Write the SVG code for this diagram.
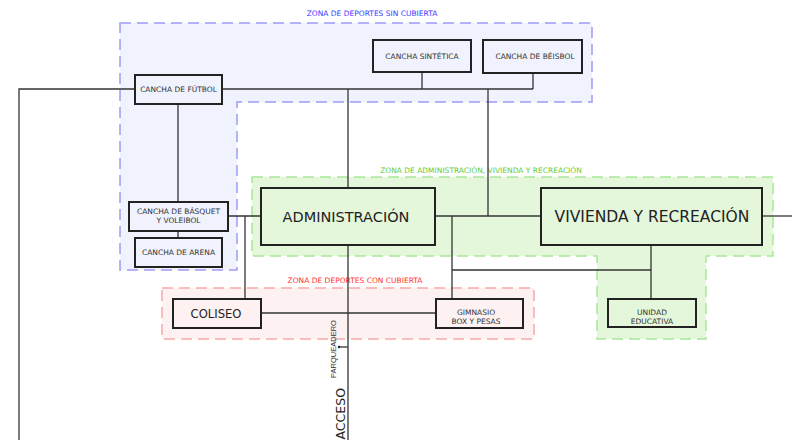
<svg xmlns="http://www.w3.org/2000/svg" width="792" height="440" viewBox="0 0 792 440">
<style>
.zone{stroke-width:1.5;stroke-dasharray:11 6}
.zb{fill:#f0f2fd;stroke:#9c9cf5}
.zg{fill:#e4f7da;stroke:#a9e89b}
.zr{fill:#fdf1f1;stroke:#f7aaaa}
.zl{font-family:"DejaVu Sans",Verdana,sans-serif;font-size:7.5px;text-anchor:middle}
.box{stroke:#222;stroke-width:2}
.t{font-family:"DejaVu Sans",Verdana,sans-serif;font-size:7.5px;fill:#333;text-anchor:middle}
.big{font-family:"DejaVu Sans",Verdana,sans-serif;fill:#222;text-anchor:middle}
.c{fill:none;stroke:#333;stroke-width:1.3}
</style>
<rect width="792" height="440" fill="#ffffff"/>
<g id="zones">
<polygon class="zone zb" points="120,23 592,23 592,102 237,102 237,270 120,270"/>
<polygon class="zone zg" points="252,177 773,177 773,256 706,256 706,339 597,339 597,256 252,256"/>
<rect class="zone zr" x="162" y="288" width="372" height="51"/>
<text class="zl" x="372" y="16" fill="#3b3bff">ZONA DE DEPORTES SIN CUBIERTA</text>
<text class="zl" x="481" y="173" fill="#66cc33">ZONA DE ADMINISTRACIÓN, VIVIENDA Y RECREACIÓN</text>
<text class="zl" x="355" y="283" fill="#ff3333">ZONA DE DEPORTES CON CUBIERTA</text>
</g>
<g id="connectors">
<polyline class="c" points="135,89 19,89 19,440"/>
<line class="c" x1="222" y1="89" x2="533" y2="89"/>
<line class="c" x1="422" y1="72" x2="422" y2="89"/>
<line class="c" x1="533" y1="73" x2="533" y2="89"/>
<line class="c" x1="348" y1="89" x2="348" y2="188"/>
<line class="c" x1="488" y1="89" x2="488" y2="216"/>
<line class="c" x1="178" y1="104" x2="178" y2="202"/>
<line class="c" x1="178" y1="231" x2="178" y2="238"/>
<line class="c" x1="228" y1="216" x2="261" y2="216"/>
<line class="c" x1="245" y1="216" x2="245" y2="299"/>
<line class="c" x1="435" y1="216" x2="541" y2="216"/>
<line class="c" x1="762" y1="216" x2="792" y2="216"/>
<line class="c" x1="452" y1="216" x2="452" y2="299"/>
<line class="c" x1="452" y1="270" x2="651" y2="270"/>
<line class="c" x1="651" y1="245" x2="651" y2="299"/>
<line class="c" x1="261" y1="313" x2="436" y2="313"/>
<line class="c" x1="348" y1="245" x2="348" y2="440"/>
<line class="c" x1="339" y1="347" x2="348" y2="347" stroke-width="0.8"/>
<circle cx="339" cy="347" r="1.2" fill="#222"/>
<text x="334" y="349" transform="rotate(-90 334 349)" font-family="'Liberation Sans',Arial,sans-serif" font-size="7.5" fill="#333" text-anchor="middle" dominant-baseline="middle">PARQUEADERO</text>
<text x="341" y="388" transform="rotate(-90 341 388)" font-family="'DejaVu Sans',Verdana,sans-serif" font-size="12.5" fill="#222" text-anchor="end" dominant-baseline="middle">ACCESO</text>
</g>
<g id="futbol">
<rect class="box" x="135" y="75" width="87" height="29" fill="#f0f2fd"/>
<text class="t" x="178.5" y="92.2">CANCHA DE FÚTBOL</text>
</g>
<g id="sintetica">
<rect class="box" x="373" y="40" width="98" height="32" fill="#f0f2fd"/>
<text class="t" x="422" y="58.7">CANCHA SINTÉTICA</text>
</g>
<g id="beisbol">
<rect class="box" x="483" y="40" width="99" height="33" fill="#f0f2fd"/>
<text class="t" x="535" y="59.2">CANCHA DE BÉISBOL</text>
</g>
<g id="basquet">
<rect class="box" x="129" y="202" width="99" height="29" fill="#f0f2fd" stroke-width="1.7"/>
<text class="t" x="178.5" y="213.7">CANCHA DE BÁSQUET</text>
<text class="t" x="178.5" y="222.7">Y VOLEIBOL</text>
</g>
<g id="arena">
<rect class="box" x="135" y="238" width="87" height="29" fill="#f0f2fd"/>
<text class="t" x="178.5" y="255.2">CANCHA DE ARENA</text>
</g>
<g id="administracion">
<rect class="box" x="261" y="188" width="174" height="57" fill="#e4f7da"/>
<text class="big" x="346" y="221.5" font-size="14.5">ADMINISTRACIÓN</text>
</g>
<g id="vivienda">
<rect class="box" x="541" y="188" width="221" height="57" fill="#e4f7da"/>
<text class="big" x="652" y="222" font-size="15.5">VIVIENDA Y RECREACIÓN</text>
</g>
<g id="coliseo">
<rect class="box" x="173" y="299" width="88" height="29" fill="#fdf1f1"/>
<text class="big" x="216" y="317.8" font-size="11.6">COLISEO</text>
</g>
<g id="gimnasio">
<rect class="box" x="436" y="299" width="87" height="29" fill="#fdf1f1"/>
<text class="t" x="476" y="314.7">GIMNASIO</text>
<text class="t" x="476" y="323.7">BOX Y PESAS</text>
</g>
<g id="unidad">
<rect class="box" x="608" y="299" width="88" height="28" fill="#e4f7da"/>
<text class="t" x="652" y="314.7">UNIDAD</text>
<text class="t" x="652" y="323.7">EDUCATIVA</text>
</g>
</svg>
